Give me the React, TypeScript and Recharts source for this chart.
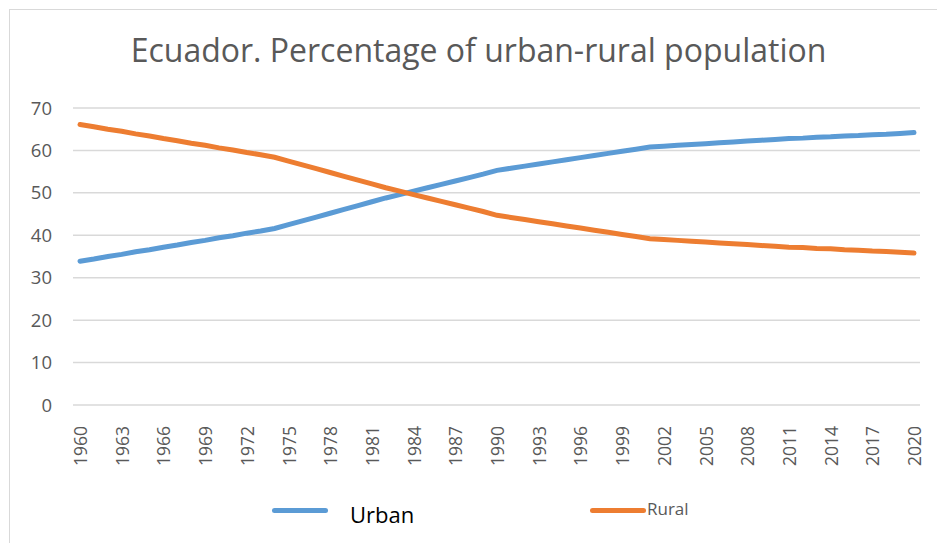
import React from "react";
import { LineChart, Line, XAxis, YAxis, CartesianGrid } from "recharts";

const years = [
  1960, 1961, 1962, 1963, 1964, 1965, 1966, 1967, 1968, 1969, 1970, 1971, 1972, 1973, 1974,
  1975, 1976, 1977, 1978, 1979, 1980, 1981, 1982, 1983, 1984, 1985, 1986, 1987, 1988, 1989,
  1990, 1991, 1992, 1993, 1994, 1995, 1996, 1997, 1998, 1999, 2000, 2001, 2002, 2003, 2004,
  2005, 2006, 2007, 2008, 2009, 2010, 2011, 2012, 2013, 2014, 2015, 2016, 2017, 2018, 2019,
  2020,
];

const urban = [
  33.9, 34.4, 35.0, 35.5, 36.1, 36.6, 37.2, 37.7, 38.3, 38.8, 39.4, 39.9, 40.5, 41.0, 41.6,
  42.5, 43.4, 44.3, 45.2, 46.1, 47.0, 47.9, 48.8, 49.6, 50.4, 51.2, 52.0, 52.8, 53.6, 54.4,
  55.3, 55.8, 56.3, 56.8, 57.3, 57.8, 58.3, 58.8, 59.3, 59.8, 60.3, 60.8, 61.0, 61.2, 61.4,
  61.6, 61.8, 62.0, 62.2, 62.4, 62.6, 62.8, 62.9, 63.1, 63.2, 63.4, 63.5, 63.7, 63.8, 64.0,
  64.2,
];

const rural = [
  66.1, 65.6, 65.0, 64.5, 63.9, 63.4, 62.8, 62.3, 61.7, 61.2, 60.6, 60.1, 59.5, 59.0, 58.4,
  57.5, 56.6, 55.7, 54.8, 53.9, 53.0, 52.1, 51.2, 50.4, 49.6, 48.8, 48.0, 47.2, 46.4, 45.6,
  44.7, 44.2, 43.7, 43.2, 42.7, 42.2, 41.7, 41.2, 40.7, 40.2, 39.7, 39.2, 39.0, 38.8, 38.6,
  38.4, 38.2, 38.0, 37.8, 37.6, 37.4, 37.2, 37.1, 36.9, 36.8, 36.6, 36.5, 36.3, 36.2, 36.0,
  35.8,
];

const yTicks = [0, 10, 20, 30, 40, 50, 60, 70];

const data = years.map((y, i) => ({ year: String(y), urban: urban[i], rural: rural[i] }));

const font = "'Open Sans', sans-serif";
const gray = "#595959";

function YearTick(props: any) {
  const { x, y, payload } = props;
  return (
    <text
      x={x}
      y={y + 13}
      transform={`rotate(-90, ${x}, ${y + 13})`}
      textAnchor="end"
      dominantBaseline="central"
      fill={gray}
      fontSize={17.5}
      fontFamily={font}
    >
      {payload.value}
    </text>
  );
}

export default function App() {
  return (
    <div style={{ position: "absolute", left: 0, top: 0, width: 937, height: 543, background: "#fff", fontFamily: font }}>
      <div
        style={{
          position: "absolute",
          left: 9,
          top: 9,
          width: 940,
          height: 545,
          border: "1px solid #d9d9d9",
        }}
      />
      <div
        style={{
          position: "absolute",
          left: 0,
          top: 28,
          width: 957,
          textAlign: "center",
          fontSize: 32,
          color: gray,
        }}
      >
        Ecuador. Percentage of urban-rural population
      </div>
      <div style={{ position: "absolute", left: 0, top: 0 }}>
        <LineChart width={937} height={543} data={data} margin={{ top: 108, right: 17, bottom: 78, left: 0 }}>
          <CartesianGrid vertical={false} stroke="#d9d9d9" strokeWidth={1.5} />
          <XAxis
            dataKey="year"
            interval={2}
            tick={<YearTick />}
            tickLine={false}
            axisLine={false}
            height={60}
            padding={{ left: 7, right: 6 }}
          />
          <YAxis
            domain={[0, 70]}
            ticks={yTicks}
            width={73}
            tickLine={false}
            axisLine={false}
            tickMargin={15}
            tick={{ fill: gray, fontSize: 18.5, fontFamily: font }}
          />
          <Line
            type="linear"
            dataKey="urban"
            stroke="#5B9BD5"
            strokeWidth={5}
            strokeLinecap="round"
            dot={false}
            isAnimationActive={false}
          />
          <Line
            type="linear"
            dataKey="rural"
            stroke="#ED7D31"
            strokeWidth={5}
            strokeLinecap="round"
            dot={false}
            isAnimationActive={false}
          />
        </LineChart>
      </div>
      <div style={{ position: "absolute", left: 272, top: 508, width: 56, height: 5, borderRadius: 3, background: "#5B9BD5" }} />
      <div style={{ position: "absolute", left: 350, top: 499, fontSize: 22, color: "#000" }}>Urban</div>
      <div style={{ position: "absolute", left: 590, top: 508, width: 56, height: 5, borderRadius: 3, background: "#ED7D31" }} />
      <div style={{ position: "absolute", left: 647, top: 497, fontSize: 17, color: gray }}>Rural</div>
    </div>
  );
}
